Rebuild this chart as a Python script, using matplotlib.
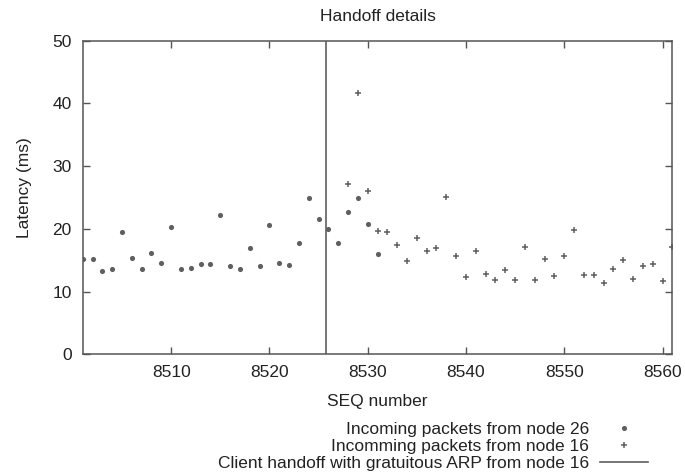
import matplotlib
matplotlib.use("Agg")
import matplotlib.pyplot as plt

plt.rcParams['font.family'] = ['Liberation Sans', 'DejaVu Sans']

# Latency of packets arriving from node 26 (before / around the handoff)
seq_node26 = list(range(8501, 8532))
lat_node26 = [15.2, 15.15, 13.2, 13.55, 19.5, 15.3, 13.6, 16.1, 14.5, 20.25,
              13.65, 13.8, 14.45, 14.35, 22.2, 14.1, 13.55, 16.95, 14.1, 20.6,
              14.5, 14.3, 17.8, 24.95, 21.5, 20.0, 17.75, 22.75, 24.9, 20.8,
              15.95]

# Latency of packets arriving from node 16 (after the handoff)
seq_node16 = [8528, 8529, 8530] + list(range(8531, 8562))
lat_node16 = [27.2, 41.6, 26.0, 19.7, 19.5, 17.5, 14.8, 18.6, 16.4, 16.95,
              25.0, 15.75, 12.4, 16.5, 12.85, 11.8, 13.45, 11.85, 17.1, 11.9,
              15.2, 12.5, 15.7, 19.8, 12.6, 12.65, 11.3, 13.55, 15.1, 12.05,
              14.05, 14.4, 11.75, 17.1]

handoff_seq = 8525.8

x_ticks = [8510, 8520, 8530, 8540, 8550, 8560]
y_ticks = [0, 10, 20, 30, 40, 50]

grey = '#5f5f5f'
frame = '#555555'
text_col = '#222222'
fs = 12.5

fig = plt.figure(figsize=(6.85, 4.72), dpi=100)
ax = fig.add_axes([0.1207, 0.2494, 0.8608, 0.6644])

ax.plot(seq_node26, lat_node26, linestyle='none', marker='o', markersize=3.7,
        markeredgewidth=0, color=grey, label='Incoming packets from node 26')
ax.plot(seq_node16, lat_node16, linestyle='none', marker='+', markersize=5,
        markeredgewidth=1.1, color=grey, label='Incomming packets from node 16')
ax.axvline(handoff_seq, color=grey, linewidth=1.2,
           label='Client handoff with gratuitous ARP from node 16')

ax.set_xlim(8501, 8561)
ax.set_ylim(0, 50)
ax.set_xticks(x_ticks)
ax.set_yticks(y_ticks)
ax.tick_params(direction='in', top=True, right=True, length=5, width=1,
               color=frame, labelsize=fs, labelcolor=text_col, pad=8)
for s in ax.spines.values():
    s.set_color(frame)
    s.set_linewidth(1.1)

ax.set_title('Handoff details', fontsize=fs, color=text_col, pad=14)
ax.set_xlabel('SEQ number', fontsize=fs, color=text_col)
ax.xaxis.set_label_coords(0.5, -0.152)
ax.xaxis.label.set_verticalalignment('center')
ax.set_ylabel('Latency (ms)', fontsize=fs, color=text_col)
ax.yaxis.set_label_coords(-0.086, 0.53)

fig.legend(loc='upper right', bbox_to_anchor=(0.946, 0.107),
           frameon=False, markerfirst=False, fontsize=fs,
           handlelength=2.76, handletextpad=0.63, labelspacing=0.11,
           borderaxespad=0, borderpad=0, labelcolor=text_col)

fig.savefig('out.png', dpi=100)
